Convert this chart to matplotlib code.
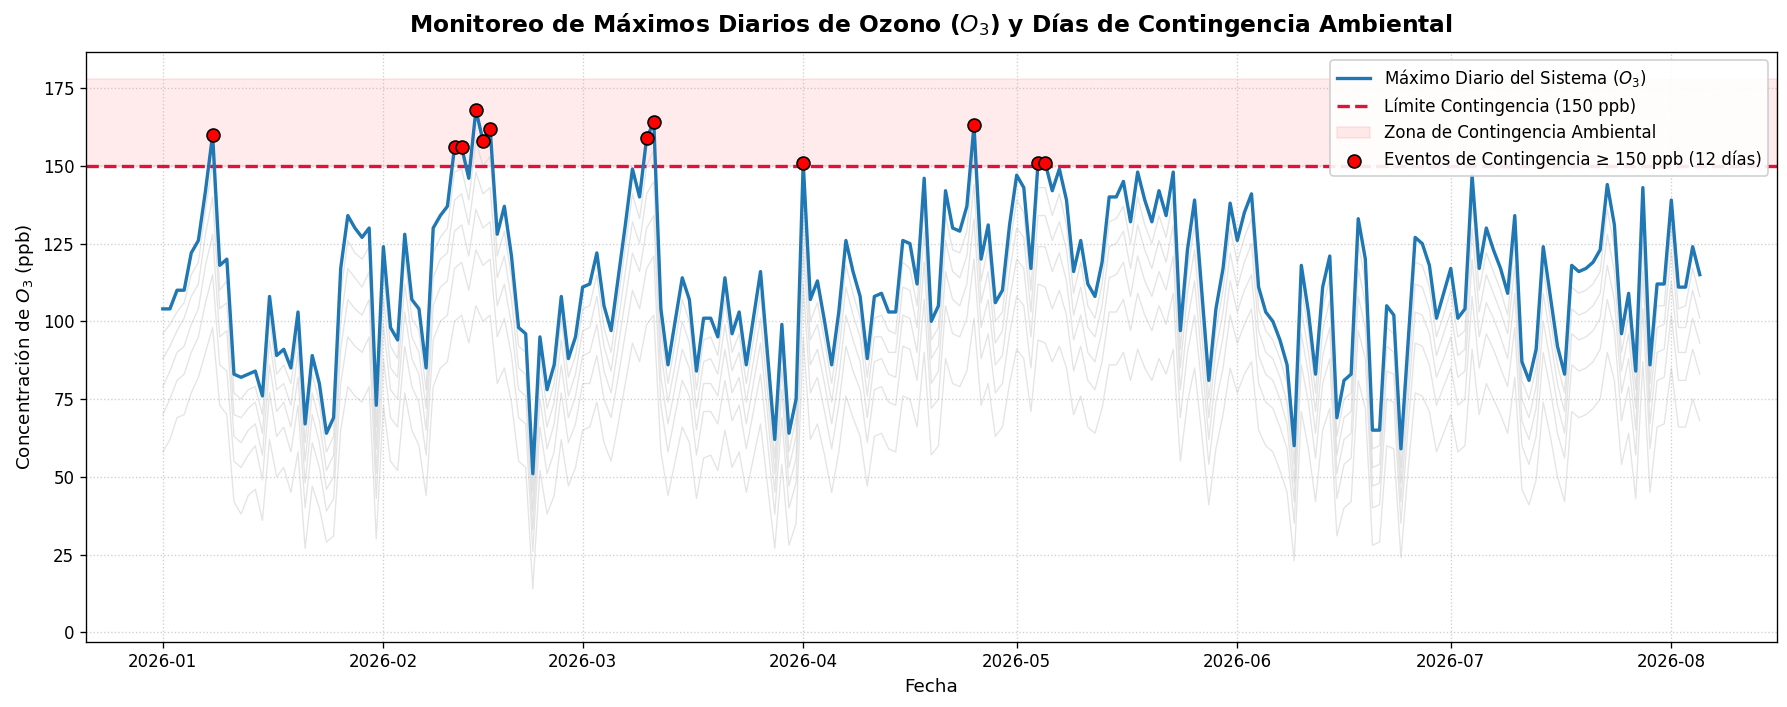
import numpy as np
import pandas as pd
import matplotlib
matplotlib.use('Agg')
import matplotlib.pyplot as plt

plt.rcParams['font.family'] = ['DejaVu Sans']

# fechas: 1 de enero a 5 de agosto de 2026
fechas = pd.date_range('2026-01-01', '2026-08-05', freq='D')

# máximo diario del sistema (ppb)
maximo = [
    104, 104, 110, 110, 122, 126, 142, 160, 118, 120,
    83, 82, 83, 84, 76, 108, 89, 91, 85, 103,
    67, 89, 80, 64, 69, 117, 134, 130, 127, 130,
    73, 124, 98, 94, 128, 107, 104, 85, 130, 134,
    137, 156, 156, 146, 168, 158, 162, 128, 137, 121,
    98, 96, 51, 95, 78, 86, 108, 88, 95, 111,
    112, 122, 105, 97, 114, 131, 149, 140, 159, 164,
    104, 86, 100, 114, 107, 84, 101, 101, 95, 114,
    96, 103, 86, 101, 116, 89, 62, 99, 64, 75,
    151, 107, 113, 100, 86, 103, 126, 116, 108, 88,
    108, 109, 103, 103, 126, 125, 112, 146, 100, 105,
    142, 130, 129, 137, 163, 120, 131, 106, 110, 131,
    147, 143, 117, 151, 151, 142, 149, 139, 116, 126,
    112, 108, 119, 140, 140, 145, 132, 148, 139, 132,
    142, 134, 148, 97, 123, 139, 110, 81, 104, 117,
    138, 126, 135, 141, 111, 103, 100, 94, 86, 60,
    118, 103, 83, 111, 121, 69, 81, 83, 133, 120,
    65, 65, 105, 102, 59, 93, 127, 125, 118, 101,
    109, 117, 101, 104, 147, 117, 130, 123, 117, 109,
    134, 87, 81, 91, 124, 108, 92, 83, 118, 116,
    117, 119, 123, 144, 131, 96, 109, 84, 143, 86,
    112, 112, 139, 111, 111, 124, 115,
]

# estaciones individuales (estimadas)
est1 = [
    96, 99, 103, 106, 115, 119, 136, 151, 110, 113,
    77, 75, 78, 79, 70, 101, 83, 86, 80, 96,
    61, 83, 74, 58, 63, 109, 126, 122, 120, 124,
    66, 116, 92, 88, 121, 101, 97, 78, 122, 127,
    130, 148, 149, 139, 158, 150, 153, 121, 129, 114,
    92, 90, 45, 88, 72, 80, 101, 82, 89, 104,
    105, 115, 98, 90, 107, 124, 141, 133, 150, 155,
    97, 80, 93, 107, 100, 78, 94, 95, 89, 107,
    90, 96, 80, 94, 109, 83, 56, 92, 58, 69,
    143, 100, 106, 94, 80, 96, 118, 109, 101, 82,
    101, 102, 97, 96, 119, 117, 105, 138, 94, 98,
    134, 123, 122, 129, 154, 113, 124, 100, 103, 124,
    139, 135, 110, 143, 143, 134, 141, 131, 109, 119,
    105, 101, 112, 132, 133, 137, 125, 140, 131, 125,
    134, 127, 140, 91, 116, 131, 103, 75, 97, 110,
    130, 119, 127, 133, 104, 97, 94, 88, 80, 54,
    111, 97, 77, 104, 114, 63, 75, 77, 125, 113,
    59, 60, 98, 96, 53, 87, 119, 118, 111, 95,
    102, 110, 95, 97, 139, 110, 122, 116, 110, 102,
    126, 81, 75, 85, 117, 101, 86, 77, 111, 109,
    110, 112, 116, 136, 124, 90, 102, 78, 135, 80,
    105, 105, 131, 104, 105, 117, 108,
]
est2 = [
    88, 92, 97, 101, 108, 112, 128, 140, 104, 106,
    70, 69, 72, 74, 64, 94, 78, 80, 73, 90,
    55, 77, 68, 52, 57, 100, 117, 114, 111, 116,
    59, 108, 85, 82, 112, 95, 90, 72, 114, 120,
    122, 139, 141, 131, 148, 141, 143, 114, 121, 107,
    85, 83, 39, 82, 66, 74, 94, 76, 83, 97,
    98, 108, 92, 84, 100, 116, 132, 125, 141, 145,
    90, 74, 86, 100, 93, 72, 87, 88, 83, 99,
    84, 90, 74, 87, 101, 77, 51, 85, 53, 63,
    134, 94, 99, 87, 74, 90, 111, 102, 95, 76,
    95, 95, 90, 90, 111, 110, 98, 129, 88, 92,
    126, 116, 114, 121, 144, 106, 116, 93, 97, 116,
    130, 127, 103, 134, 134, 126, 132, 123, 102, 111,
    98, 95, 105, 124, 125, 129, 117, 131, 123, 117,
    126, 119, 131, 85, 109, 123, 96, 69, 91, 103,
    122, 111, 119, 125, 97, 90, 88, 82, 74, 48,
    104, 90, 71, 97, 107, 57, 69, 71, 117, 106,
    53, 54, 92, 90, 48, 81, 112, 111, 104, 89,
    96, 103, 89, 91, 130, 103, 115, 109, 103, 96,
    118, 75, 69, 79, 109, 95, 80, 71, 104, 102,
    103, 105, 109, 128, 116, 84, 96, 72, 126, 74,
    98, 99, 123, 98, 98, 110, 101,
]
est3 = [
    79, 84, 90, 92, 99, 104, 118, 128, 95, 97,
    63, 61, 65, 67, 57, 86, 71, 74, 66, 82,
    48, 70, 61, 46, 50, 91, 107, 104, 102, 107,
    51, 99, 78, 75, 103, 88, 83, 65, 105, 111,
    113, 129, 131, 121, 136, 130, 132, 105, 112, 99,
    78, 76, 33, 75, 59, 67, 86, 69, 76, 89,
    90, 99, 84, 77, 92, 107, 122, 116, 130, 134,
    82, 67, 79, 91, 85, 65, 80, 80, 76, 91,
    77, 82, 67, 80, 93, 70, 45, 78, 47, 56,
    124, 86, 91, 80, 67, 82, 102, 94, 87, 69,
    87, 88, 83, 82, 102, 101, 90, 119, 80, 84,
    116, 107, 105, 112, 133, 98, 107, 86, 89, 107,
    120, 117, 95, 124, 124, 116, 122, 113, 94, 102,
    90, 87, 97, 114, 115, 119, 108, 121, 113, 108,
    116, 110, 121, 78, 100, 113, 88, 62, 83, 95,
    113, 103, 110, 115, 89, 83, 81, 75, 67, 42,
    96, 83, 64, 89, 98, 51, 62, 64, 108, 98,
    47, 48, 84, 83, 42, 74, 103, 102, 96, 82,
    88, 95, 82, 84, 120, 95, 106, 101, 95, 88,
    109, 68, 62, 72, 100, 87, 73, 64, 96, 94,
    95, 97, 101, 118, 107, 77, 88, 65, 116, 67,
    90, 91, 113, 90, 90, 101, 93,
]
est4 = [
    70, 75, 81, 83, 90, 95, 106, 115, 86, 84,
    55, 53, 57, 60, 49, 77, 63, 66, 58, 73,
    40, 61, 53, 39, 43, 80, 95, 92, 90, 95,
    43, 88, 69, 66, 92, 79, 74, 57, 94, 100,
    102, 117, 119, 110, 123, 118, 120, 95, 101, 89,
    69, 67, 26, 66, 51, 58, 77, 61, 67, 80,
    80, 89, 75, 69, 82, 96, 110, 104, 117, 121,
    73, 58, 70, 81, 76, 57, 71, 71, 67, 81,
    68, 73, 59, 71, 83, 61, 38, 69, 40, 48,
    112, 77, 82, 71, 59, 73, 92, 84, 78, 61,
    78, 79, 74, 73, 92, 91, 81, 107, 72, 75,
    105, 96, 95, 101, 120, 88, 96, 77, 80, 96,
    108, 105, 85, 112, 111, 104, 110, 102, 84, 92,
    81, 78, 87, 103, 103, 107, 97, 109, 102, 97,
    105, 99, 109, 69, 90, 102, 79, 54, 74, 85,
    102, 93, 99, 104, 80, 74, 72, 66, 59, 35,
    86, 74, 56, 80, 88, 43, 54, 56, 97, 88,
    40, 41, 75, 74, 35, 66, 93, 92, 86, 73,
    79, 85, 73, 75, 108, 85, 96, 91, 85, 79,
    98, 60, 54, 63, 90, 78, 64, 56, 86, 84,
    85, 87, 91, 107, 97, 68, 79, 57, 104, 59,
    81, 82, 102, 81, 81, 91, 83,
]
est5 = [
    58, 62, 69, 70, 77, 82, 90, 98, 73, 70,
    42, 38, 44, 46, 36, 62, 50, 53, 45, 58,
    27, 47, 40, 29, 31, 65, 79, 76, 74, 79,
    30, 73, 55, 52, 77, 65, 60, 44, 79, 85,
    87, 100, 102, 93, 105, 100, 102, 80, 85, 74,
    55, 53, 14, 52, 38, 44, 62, 47, 53, 65,
    66, 74, 61, 55, 67, 80, 93, 87, 99, 102,
    58, 44, 55, 66, 61, 43, 56, 57, 52, 65,
    53, 58, 45, 56, 67, 47, 27, 54, 28, 35,
    95, 62, 67, 57, 45, 58, 76, 69, 63, 47,
    63, 64, 59, 58, 76, 75, 66, 90, 57, 60,
    88, 80, 79, 84, 101, 73, 80, 63, 66, 80,
    91, 88, 71, 94, 93, 87, 92, 85, 70, 76,
    66, 64, 72, 86, 86, 90, 81, 91, 85, 81,
    88, 83, 91, 55, 74, 85, 64, 41, 59, 70,
    85, 77, 83, 87, 65, 60, 58, 52, 45, 23,
    71, 59, 42, 65, 72, 31, 40, 42, 81, 72,
    28, 29, 60, 59, 24, 52, 77, 76, 71, 58,
    64, 70, 58, 60, 91, 70, 80, 75, 70, 64,
    82, 46, 41, 49, 74, 63, 50, 42, 71, 69,
    70, 72, 75, 90, 81, 54, 64, 43, 87, 45,
    66, 67, 85, 66, 66, 75, 68,
]
estaciones = [est1, est2, est3, est4, est5]

limite = 150


def main():
    maximo_arr = np.array(maximo)
    eventos = maximo_arr >= limite
    n_eventos = int(eventos.sum())

    fig, ax = plt.subplots(figsize=(1787 / 120, 707 / 120), dpi=120)
    fig.subplots_adjust(left=0.0481, right=0.9942, top=0.9264, bottom=0.0925)

    # estaciones de fondo
    for serie in estaciones:
        ax.plot(fechas, serie, color='lightgray', linewidth=0.8, alpha=0.6, zorder=1)

    ax.plot(fechas, maximo_arr, color='#1f77b4', linewidth=2,
            label='Máximo Diario del Sistema ($O_3$)', zorder=3)
    ax.axhline(limite, color='crimson', linestyle='--', linewidth=2,
               label=f'Límite Contingencia ({limite} ppb)', zorder=2)
    ax.axhspan(limite, maximo_arr.max() + 10, color='red', alpha=0.08,
               label='Zona de Contingencia Ambiental', zorder=0)
    ax.scatter(fechas[eventos], maximo_arr[eventos], color='red', edgecolor='black',
               s=60, linewidth=1, zorder=5,
               label=f'Eventos de Contingencia ≥ {limite} ppb ({n_eventos} días)')

    ax.set_ylim(-3, 186.6)
    ax.set_title('Monitoreo de Máximos Diarios de Ozono ($O_3$) y Días de Contingencia Ambiental',
                 fontsize=14, fontweight='bold', pad=12)
    ax.set_xlabel('Fecha', fontsize=11)
    ax.set_ylabel('Concentración de $O_3$ (ppb)', fontsize=11)
    ax.grid(True, linestyle=':', alpha=0.6)
    ax.legend(loc='upper right', fontsize=10, framealpha=0.9)

    fig.savefig('out.png', dpi=120)


if __name__ == '__main__':
    main()
